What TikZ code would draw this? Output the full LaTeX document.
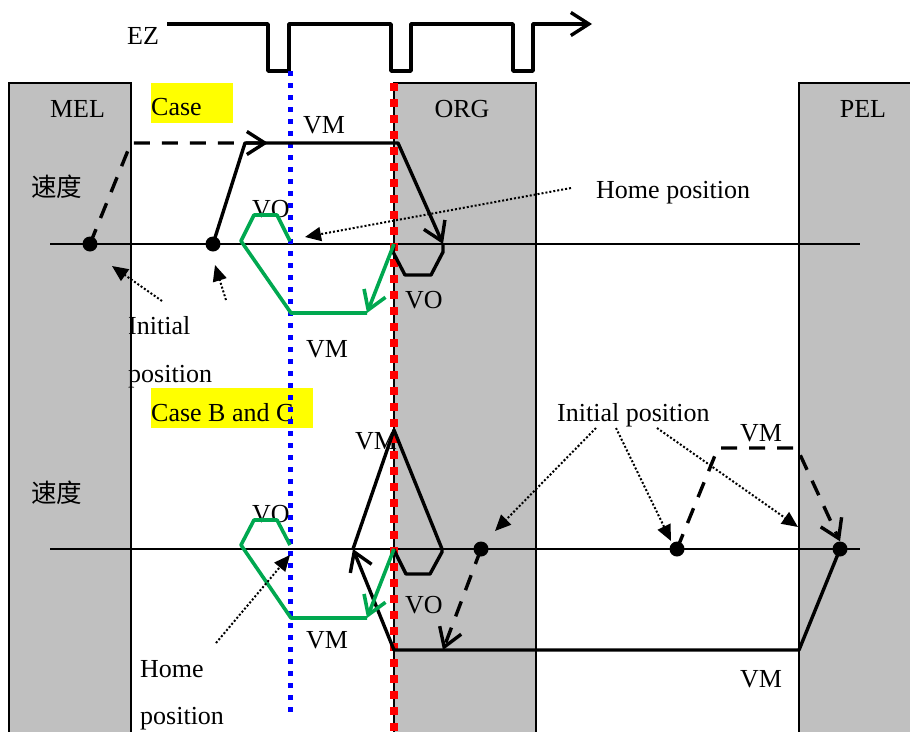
\documentclass[tikz,border=0pt]{standalone}
\usepackage{fontspec}
\setmainfont{Liberation Serif}
\newfontfamily\cjk{Noto Sans CJK SC}
\usetikzlibrary{arrows.meta}
\definecolor{boxgray}{RGB}{192,192,192}
\definecolor{grn}{RGB}{0,168,80}
\definecolor{ylw}{RGB}{255,255,0}
\definecolor{blu}{RGB}{0,0,255}
\definecolor{rd}{RGB}{255,0,0}
\begin{document}
\begin{tikzpicture}[x=1pt,y=-1pt,
  lbl/.style={font=\fontsize{26}{30}\selectfont, inner sep=0pt, anchor=base west},
  clbl/.style={lbl, anchor=base},
  cjklbl/.style={font=\cjk\fontsize{25.5}{30}\selectfont, inner sep=0pt, anchor=west},
  limbox/.style={draw=black, line width=1.6pt, fill=boxgray},
  hilite/.style={fill=ylw},
  axisline/.style={line width=1.8pt},
  thk/.style={line width=3.4pt, line join=round},
  dashpath/.style={thk, dash pattern=on 16pt off 12pt},
  grnpath/.style={draw=grn, line width=3.6pt, line join=round},
  barb/.style={-{Straight Barb[length=18pt,width=23pt]}},
  dotarrow/.style={line width=2pt, dash pattern=on 2pt off 2pt, -{Triangle[length=16pt,width=14pt]}},
  dot/.style={circle, fill=black, inner sep=0pt, minimum size=15pt},
  bluedots/.style={draw=blu, line width=5pt, dash pattern=on 5pt off 7pt},
  reddots/.style={draw=rd, line width=7.5pt, dash pattern=on 7.5pt off 8.5pt}
]
\useasboundingbox (0,0) rectangle (910,731);
\clip (0,0) rectangle (910,731);

% limit zones
\draw[limbox] (9,83) rectangle (131,745);
\draw[limbox] (394,83) rectangle (536,745);
\draw[limbox] (799,83) rectangle (930,745);

% highlights
\fill[hilite] (151,83) rectangle (233,123);
\fill[hilite] (151,388) rectangle (313,428);

% EZ signal
\node[lbl] (ez) at (127,44) {EZ};
\coordinate (ezs) at (167,24);
\coordinate (eze) at (592,24);
\draw[thk, barb] (ezs) -- (268,24) -- (268,71) -- (289,71) -- (289,24) -- (391,24) -- (391,71) -- (411,71) -- (411,24) -- (513,24) -- (513,71) -- (533,71) -- (533,24) -- (eze);

% zone labels
\node[clbl] (mel) at (77.5,117) {MEL};
\node[clbl] (org) at (462,117) {ORG};
\node[clbl] (pel) at (863,117) {PEL};
\node[lbl] (casea) at (151,115) {Case};
\node[lbl] (casebc) at (151,421) {Case B and C};
\node[cjklbl] (spd1) at (31,187) {速度};
\node[cjklbl] (spd2) at (31,493) {速度};

% speed labels top
\node[lbl] (vm1) at (303,133) {VM};
\node[lbl] (vo1) at (252,217) {VO};
\node[lbl] (vo2) at (405,308) {VO};
\node[lbl] (vm2) at (306,357) {VM};
\node[lbl] (init1) at (128,334) {Initial};
\node[lbl] (init2) at (128,382) {position};
\node[lbl] (home1) at (596,198) {Home position};

% speed labels bottom
\node[lbl] (vm3) at (355,449) {VM};
\node[lbl] (vo3) at (252,522) {VO};
\node[lbl] (vo4) at (405,613) {VO};
\node[lbl] (vm4) at (306,648) {VM};
\node[lbl] (home2) at (140,677) {Home};
\node[lbl] (home3) at (140,724) {position};
\node[lbl] (init3) at (557,421) {Initial position};
\node[lbl] (vm5) at (740,441) {VM};
\node[lbl] (vm6) at (740,687) {VM};

% axes
\coordinate (ax1l) at (50,244); \coordinate (ax1r) at (860,244);
\coordinate (ax2l) at (50,549); \coordinate (ax2r) at (860,549);
\draw[axisline] (ax1l) -- (ax1r);
\draw[axisline] (ax2l) -- (ax2r);

% index and origin lines
\coordinate (bt) at (290,71); \coordinate (bb) at (290,712);
\coordinate (rt) at (394,83); \coordinate (rb) at (394,735);
\draw[bluedots] (bt) -- (bb);
\draw[reddots] (rt) -- (rb);

% dots
\node[dot] (d1) at (90,244) {};
\node[dot] (d2) at (213,244) {};
\node[dot] (d3) at (481,549) {};
\node[dot] (d4) at (677,549) {};
\node[dot] (d5) at (840,549) {};

% top case
\coordinate (t1) at (268,143);
\draw[dashpath, barb] (d1.center) -- (131,143) -- (t1);
\coordinate (t2) at (443,244);
\draw[thk, barb] (d2.center) -- (245,143) -- (398,143) -- (t2);
\draw[thk] (t2) -- (443,252) -- (431,275) -- (405,275) -- (393,252) -- (394,244);
\coordinate (g1s) at (394,244); \coordinate (g1a) at (367,313);
\draw[grnpath, barb] (g1s) -- (g1a);
\draw[grnpath] (g1a) -- (291,313) -- (241,241) -- (254,215) -- (277,215) -- (290,241);

% bottom case
\coordinate (b1) at (353,549);
\draw[thk, barb] (d5.center) -- (799,650) -- (394,650) -- (b1);
\draw[thk] (b1) -- (394,430) -- (442,549) -- (442,552) -- (430,574) -- (406,574) -- (395,552) -- (394,549);
\coordinate (b2) at (443,650);
\draw[dashpath, barb] (d3.center) -- (b2);
\draw[dashpath, barb] (d4.center) -- (718,448) -- (797,448) -- (d5.north);
\coordinate (g2s) at (394,549); \coordinate (g2a) at (367,618);
\draw[grnpath, barb] (g2s) -- (g2a);
\draw[grnpath] (g2a) -- (291,618) -- (241,545) -- (254,520) -- (277,520) -- (290,545);

% pointers
\coordinate (p1s) at (571,188); \coordinate (p1e) at (305,237);
\draw[dotarrow] (p1s) -- (p1e);
\coordinate (p2s) at (162,301); \coordinate (p2e) at (112,266);
\draw[dotarrow] (p2s) -- (p2e);
\coordinate (p3s) at (226,300); \coordinate (p3e) at (215,265);
\draw[dotarrow] (p3s) -- (p3e);
\coordinate (p4s) at (216,643); \coordinate (p4e) at (290,555);
\draw[dotarrow] (p4s) -- (p4e);
\coordinate (p5s) at (596,428); \coordinate (p5e) at (495,531);
\draw[dotarrow] (p5s) -- (p5e);
\coordinate (p6s) at (616,428); \coordinate (p6e) at (671,541);
\draw[dotarrow] (p6s) -- (p6e);
\coordinate (p7s) at (657,428); \coordinate (p7e) at (798,527);
\draw[dotarrow] (p7s) -- (p7e);
\end{tikzpicture}
\end{document}
